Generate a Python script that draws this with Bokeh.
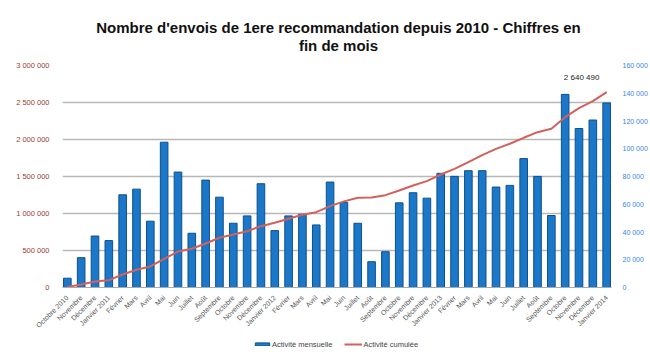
import math
from bokeh.plotting import figure
from bokeh.layouts import column
from bokeh.models import (Range1d, LinearAxis, FixedTicker, Label, Legend, LegendItem,
                          ColumnDataSource)
from bokeh.embed import file_html
from bokeh.resources import INLINE

months = ["Octobre 2010", "Novembre", "Décembre", "Janvier 2011", "Février", "Mars", "Avril",
          "Mai", "Juin", "Juillet", "Août", "Septembre", "Octobre", "Novembre", "Décembre",
          "Janvier 2012", "Février", "Mars", "Avril", "Mai", "Juin", "Juillet", "Août",
          "Septembre", "Octobre", "Novembre", "Décembre", "Janvier 2013", "Février", "Mars",
          "Avril", "Mai", "Juin", "Juillet", "Août", "Septembre", "Octobre", "Novembre",
          "Décembre", "Janvier 2014"]

mensuelle = [6700, 21500, 37100, 33800, 66800, 70900, 47800, 104700, 83200, 39100,
             77400, 65100, 46300, 51600, 74800, 41000, 51600, 52800, 45100, 76000,
             61300, 46300, 18600, 25800, 61000, 68300, 64400, 82300, 80100, 84200,
             84200, 72400, 73600, 92900, 80100, 51900, 139200, 114600, 120700, 133000]

cumulee = [7000, 40000, 81000, 99000, 176000, 239000, 284000, 388000, 486000, 523000,
           595000, 672000, 716000, 761000, 829000, 874000, 928000, 982000, 1018000, 1099000,
           1164000, 1212000, 1216000, 1248000, 1311000, 1378000, 1437000, 1527000, 1604000, 1694000,
           1788000, 1874000, 1942000, 2023000, 2099000, 2144000, 2302000, 2423000, 2518000, 2640490]

left_ticks = [0, 500000, 1000000, 1500000, 2000000, 2500000, 3000000]
left_tick_labels = ["0", "500 000", "1 000 000", "1 500 000", "2 000 000", "2 500 000", "3 000 000"]
right_ticks = [0, 20000, 40000, 60000, 80000, 100000, 120000, 140000, 160000]
right_tick_labels = ["0", "20 000", "40 000", "60 000", "80 000", "100 000", "120 000", "140 000", "160 000"]

title_lines = ["Nombre d'envois de 1ere recommandation depuis 2010 - Chiffres en", "fin de mois"]
last_label = "2 640 490"
series_names = ["Activité mensuelle", "Activité cumulée"]

FONT = "Liberation Sans"
BAR_COLOR = "#1b78c8"
BAR_LINE = "#0e4f8e"
LINE_COLOR = "#d3615b"
W = 650
FRAME_LEFT = 62          # frames of the stacked figures are aligned on the chart's frame
TITLE_H = 56
LEG_H = 24
MAIN_H = 359 - TITLE_H - LEG_H

x = list(range(len(months)))
src = ColumnDataSource(dict(x=x, m=mensuelle, c=cumulee))


def strip(h):
    f = figure(width=W, height=h, output_backend="svg", toolbar_location=None, title=None,
               x_axis_type=None, y_axis_type=None,
               x_range=Range1d(0, 1), y_range=Range1d(0, 1))
    f.min_border_left = 0
    f.min_border_right = 0
    f.min_border_top = 0
    f.min_border_bottom = 0
    f.grid.grid_line_color = None
    f.outline_line_color = None
    f.background_fill_color = "white"
    f.border_fill_color = "white"
    return f


# ---- title strip
t = strip(TITLE_H)
for txt, yy in zip(title_lines, [TITLE_H - 27, TITLE_H - 45]):
    t.add_layout(Label(x=338 - FRAME_LEFT, y=yy, x_units="screen", y_units="screen", text=txt,
                       text_align="center", text_baseline="middle", text_font=FONT,
                       text_font_style="bold", text_font_size="15px", text_color="#111111"))

# ---- main chart
p = figure(width=W, height=MAIN_H, output_backend="svg", toolbar_location=None, title=None,
           x_range=Range1d(-0.35, len(months) - 0.65),
           y_range=Range1d(0, left_ticks[-1]))
p.min_border_left = FRAME_LEFT
p.min_border_right = 30
p.min_border_top = 65 - TITLE_H
p.min_border_bottom = 48
p.outline_line_color = None
p.background_fill_color = "white"
p.border_fill_color = "white"

p.extra_y_ranges = {"right": Range1d(0, right_ticks[-1])}

bars = p.vbar(x="x", top="m", width=0.55, source=src, y_range_name="right",
              fill_color=BAR_COLOR, line_color=BAR_LINE, line_width=1)
line = p.line(x="x", y="c", source=src, line_color=LINE_COLOR, line_width=2)

la = p.yaxis[0]
la.ticker = FixedTicker(ticks=left_ticks)
la.major_label_overrides = {tk: l for tk, l in zip(left_ticks, left_tick_labels)}
la.axis_line_color = None
la.major_tick_line_color = None
la.minor_tick_line_color = None
la.major_label_text_font = FONT
la.major_label_text_font_size = "7.5px"
la.major_label_text_color = "#9b3b36"
la.major_label_standoff = 7

ra = LinearAxis(y_range_name="right", ticker=FixedTicker(ticks=right_ticks))
ra.major_label_overrides = {tk: l for tk, l in zip(right_ticks, right_tick_labels)}
ra.axis_line_color = None
ra.major_tick_line_color = None
ra.minor_tick_line_color = None
ra.major_label_text_font = FONT
ra.major_label_text_font_size = "7px"
ra.major_label_text_color = "#3a84e4"
ra.major_label_standoff = 5
p.add_layout(ra, "right")

xa = p.xaxis[0]
xa.ticker = FixedTicker(ticks=x)
xa.major_label_overrides = {i: m for i, m in zip(x, months)}
xa.major_label_orientation = math.pi / 4
xa.major_label_text_font = FONT
xa.major_label_text_font_size = "7px"
xa.major_label_text_color = "#555555"
xa.axis_line_color = "#aaaaaa"
xa.major_tick_line_color = None
xa.minor_tick_line_color = None
xa.major_label_standoff = 3

p.xgrid.grid_line_color = None
p.ygrid.ticker = FixedTicker(ticks=left_ticks)
p.ygrid.grid_line_color = "#b8b8b8"
p.ygrid.grid_line_width = 1.3

p.add_layout(Label(x=x[-1], y=cumulee[-1], text=last_label, x_offset=-25, y_offset=15,
                   text_align="center", text_baseline="middle", text_font=FONT,
                   text_font_size="8px", text_color="#222222"))

# ---- legend strip
q = strip(LEG_H)
lb = q.vbar(x="x", top="m", width=0.5, source=src, fill_color=BAR_COLOR,
            line_color=BAR_LINE, line_width=1, visible=False)
ll = q.line(x="x", y="c", source=src, line_color=LINE_COLOR, line_width=2, visible=False)
legend = Legend(items=[LegendItem(label=series_names[0], renderers=[lb]),
                       LegendItem(label=series_names[1], renderers=[ll])],
                location=(253 - FRAME_LEFT, 10), orientation="horizontal",
                glyph_width=18, glyph_height=4, label_standoff=1, spacing=12,
                padding=2, margin=0, border_line_color=None, background_fill_alpha=0,
                inactive_fill_alpha=0,
                label_text_font=FONT, label_text_font_size="7.5px", label_text_color="#444444",
                label_height=10)
q.add_layout(legend, "center")

layout = column(t, p, q, spacing=0)
html = file_html(layout, INLINE)
open("out.html", "w").write(html)
